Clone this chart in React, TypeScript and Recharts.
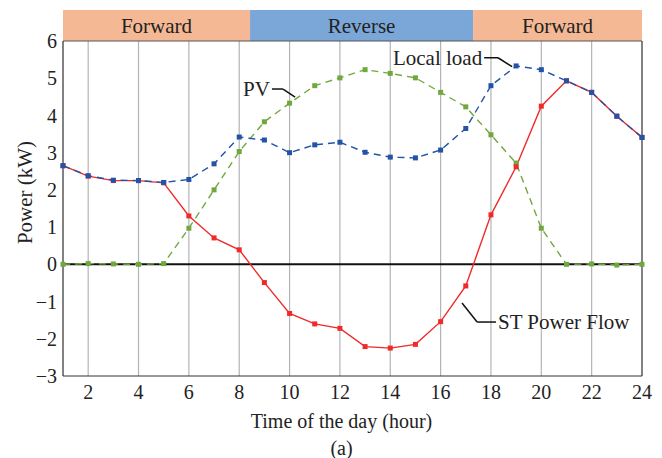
import {
  ComposedChart,
  Line,
  XAxis,
  YAxis,
  CartesianGrid,
  ReferenceLine,
  ReferenceArea,
  ReferenceDot,
} from "recharts";

const hours = [1, 2, 3, 4, 5, 6, 7, 8, 9, 10, 11, 12, 13, 14, 15, 16, 17, 18, 19, 20, 21, 22, 23, 24];
const localLoad = [2.65, 2.38, 2.26, 2.25, 2.2, 2.28, 2.7, 3.42, 3.34, 3.0, 3.21, 3.28, 3.01, 2.88, 2.86, 3.07, 3.65, 4.8, 5.33, 5.23, 4.93, 4.62, 3.98, 3.41];
const pv = [0, 0.02, 0.01, 0, 0.02, 0.97, 2.0, 3.03, 3.83, 4.33, 4.8, 5.01, 5.23, 5.13, 5.01, 4.62, 4.23, 3.48, 2.72, 0.97, 0, 0.01, -0.02, 0];
const stFlow = [2.65, 2.37, 2.25, 2.25, 2.19, 1.3, 0.71, 0.39, -0.49, -1.32, -1.6, -1.72, -2.21, -2.25, -2.15, -1.54, -0.58, 1.33, 2.62, 4.25, 4.93, 4.62, 3.98, 3.41];

const xTicks = [2, 4, 6, 8, 10, 12, 14, 16, 18, 20, 22, 24];
const yTicks = [-3, -2, -1, 0, 1, 2, 3, 4, 5, 6];

const bandLabels = ["Forward", "Reverse", "Forward"];
const bandEdges = [1, 8.43, 17.29, 24];

const data = hours.map((h, i) => ({
  hour: h,
  load: localLoad[i],
  pv: pv[i],
  st: stFlow[i],
}));

const FONT = '"Liberation Serif", "Times New Roman", serif';
const RED = "#f02a2a";
const BLUE = "#2253a8";
const GREEN = "#70a83e";

const square = (color: string) => (p: any) => (
  <rect
    key={`${color}-${p.index}`}
    x={p.cx - 2.5}
    y={p.cy - 2.5}
    width={5}
    height={5}
    fill={color}
  />
);

export default function App() {
  return (
    <div style={{ position: "absolute", left: 0, top: 0, background: "#fff" }}>
      <ComposedChart
        width={662}
        height={458}
        data={data}
        margin={{ top: 41, right: 20, bottom: 32, left: 0 }}
        style={{ fontFamily: FONT }}
      >
        <CartesianGrid horizontal={false} stroke="#b4b4b4" strokeWidth={1.2} />
        <XAxis
          dataKey="hour"
          type="number"
          domain={[1, 24]}
          ticks={xTicks}
          tickSize={0}
          tickMargin={9}
          height={50}
          stroke="#333"
          tick={{ fill: "#222", fontSize: 20, fontFamily: FONT }}
          label={{
            content: ({ viewBox }: any) => (
              <g fontFamily={FONT} fill="#222">
                <text
                  x={viewBox.x + viewBox.width / 2 - 11}
                  y={viewBox.y + 45}
                  textAnchor="middle"
                  dominantBaseline="central"
                  fontSize={20}
                >
                  Time of the day (hour)
                </text>
                <text
                  x={viewBox.x + viewBox.width / 2 - 11}
                  y={viewBox.y + 72}
                  textAnchor="middle"
                  dominantBaseline="central"
                  fontSize={20}
                >
                  (a)
                </text>
              </g>
            ),
          }}
        />
        <YAxis
          yAxisId="main"
          type="number"
          domain={[-3, 6]}
          ticks={yTicks}
          width={63}
          tickSize={0}
          tickMargin={6}
          stroke="#333"
          tick={{ fill: "#222", fontSize: 20, fontFamily: FONT }}
          tickFormatter={(v: number) => (v < 0 ? `\u2212${Math.abs(v)}` : `${v}`)}
          label={{
            content: ({ viewBox }: any) => {
              const x = viewBox.x + 25;
              const y = viewBox.y + viewBox.height / 2 - 16;
              return (
                <text
                  x={x}
                  y={y}
                  transform={`rotate(-90 ${x} ${y})`}
                  textAnchor="middle"
                  dominantBaseline="central"
                  fontSize={21}
                  fontFamily={FONT}
                  fill="#222"
                >
                  Power (kW)
                </text>
              );
            },
          }}
        />
        <YAxis
          yAxisId="inL"
          type="number"
          domain={[-3, 6]}
          ticks={yTicks}
          mirror
          axisLine={false}
          tick={false}
          tickSize={5}
          stroke="#333"
        />
        <YAxis
          yAxisId="inR"
          orientation="right"
          type="number"
          domain={[-3, 6]}
          ticks={yTicks}
          mirror
          tick={false}
          tickSize={5}
          stroke="#333"
        />
        {bandLabels.map((lab, i) => (
          <ReferenceArea
            key={`band-${i}`}
            yAxisId="main"
            x1={bandEdges[i]}
            x2={bandEdges[i + 1]}
            y1={6}
            y2={6.833}
            ifOverflow="visible"
            fill={lab === "Reverse" ? "#7ba7d8" : "#f4b994"}
            fillOpacity={1}
            stroke="none"
            label={{
              value: lab,
              position: "center",
              fill: "#222",
              fontSize: 21,
              fontFamily: FONT,
            }}
          />
        ))}
        <ReferenceLine yAxisId="main" y={6} stroke="#555" strokeWidth={1} />
        <ReferenceLine yAxisId="main" y={0} stroke="#111" strokeWidth={2} />
        <Line
          yAxisId="main"
          dataKey="pv"
          type="linear"
          stroke={GREEN}
          strokeWidth={1.4}
          strokeDasharray="7 5"
          dot={square(GREEN)}
          activeDot={false}
          isAnimationActive={false}
        />
        <Line
          yAxisId="main"
          dataKey="st"
          type="linear"
          stroke={RED}
          strokeWidth={1.4}
          dot={square(RED)}
          activeDot={false}
          isAnimationActive={false}
        />
        <Line
          yAxisId="main"
          dataKey="load"
          type="linear"
          stroke={BLUE}
          strokeWidth={1.4}
          strokeDasharray="7 5"
          dot={square(BLUE)}
          activeDot={false}
          isAnimationActive={false}
        />
        {/* annotation leaders */}
        <ReferenceLine
          yAxisId="main"
          segment={[{ x: 9.3, y: 4.71 }, { x: 9.74, y: 4.71 }]}
          stroke="#111"
          strokeWidth={1.5}
          ifOverflow="visible"
        />
        <ReferenceLine
          yAxisId="main"
          segment={[{ x: 9.74, y: 4.71 }, { x: 10.22, y: 4.49 }]}
          stroke="#111"
          strokeWidth={1.5}
          ifOverflow="visible"
        />
        <ReferenceDot
          yAxisId="main"
          x={9.3}
          y={4.71}
          r={0}
          ifOverflow="visible"
          label={{ value: "PV", position: "left", offset: 2, fill: "#222", fontSize: 21, fontFamily: FONT }}
        />
        <ReferenceLine
          yAxisId="main"
          segment={[{ x: 17.73, y: 5.55 }, { x: 18.28, y: 5.55 }]}
          stroke="#111"
          strokeWidth={1.5}
          ifOverflow="visible"
        />
        <ReferenceLine
          yAxisId="main"
          segment={[{ x: 18.28, y: 5.55 }, { x: 18.84, y: 5.31 }]}
          stroke="#111"
          strokeWidth={1.5}
          ifOverflow="visible"
        />
        <ReferenceDot
          yAxisId="main"
          x={17.73}
          y={5.55}
          r={0}
          ifOverflow="visible"
          label={{ value: "Local load", position: "left", offset: 2, fill: "#222", fontSize: 21, fontFamily: FONT }}
        />
        <ReferenceLine
          yAxisId="main"
          segment={[{ x: 18.2, y: -1.55 }, { x: 17.45, y: -1.55 }]}
          stroke="#111"
          strokeWidth={1.5}
          ifOverflow="visible"
        />
        <ReferenceLine
          yAxisId="main"
          segment={[{ x: 17.45, y: -1.55 }, { x: 16.85, y: -1.04 }]}
          stroke="#111"
          strokeWidth={1.5}
          ifOverflow="visible"
        />
        <ReferenceDot
          yAxisId="main"
          x={18.2}
          y={-1.55}
          r={0}
          ifOverflow="visible"
          label={{ value: "ST Power Flow", position: "right", offset: 2, fill: "#222", fontSize: 21, fontFamily: FONT }}
        />
      </ComposedChart>
    </div>
  );
}
